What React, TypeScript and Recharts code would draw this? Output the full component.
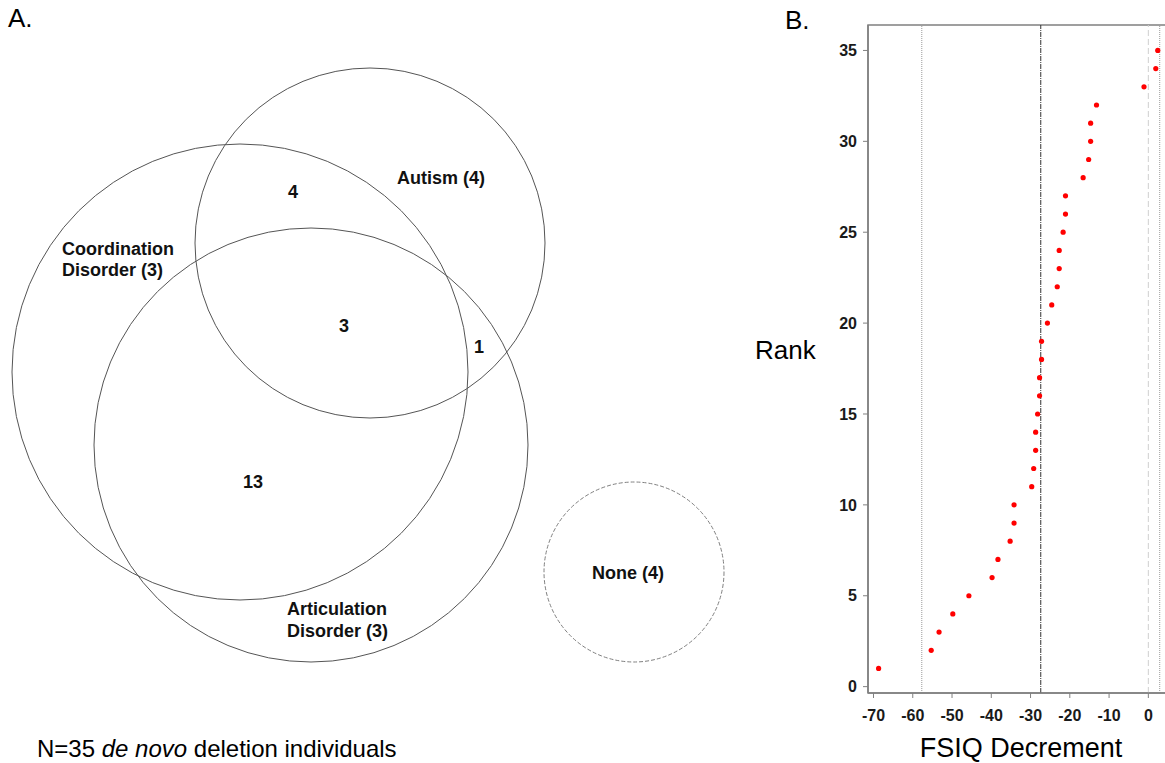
import React from "react";
import {
  ScatterChart,
  Scatter,
  XAxis,
  YAxis,
  ReferenceLine,
  ReferenceArea,
} from "recharts";

const FONT = "'Liberation Sans', Arial, Helvetica, sans-serif";

// ---- Panel A: overlap of diagnoses ----
const setNames = ["Coordination Disorder", "Autism", "Articulation Disorder", "None"];
const setOnlyCounts = [3, 4, 3, 4];
// Coord+Autism, all three, Autism+Artic, Coord+Artic
const overlapCounts = [4, 3, 1, 13];

// circle layout, in panel units (1 unit = 1px)
const circleX = [240, 370, 311, 634];
const circleY = [372, 243, 445, 572];
const circleR = [228, 175, 217, 90];
const setLabelX = [62, 441, 287, 628];
const setLabelY = [259, 178, 619.5, 573];
const setLabelAnchor = ["start", "middle", "start", "middle"];
const overlapX = [293, 344, 479, 253];
const overlapY = [192, 326, 347, 482];

// ---- Panel B: FSIQ decrement by rank ----
const ranks = [
  1, 2, 3, 4, 5, 6, 7, 8, 9, 10, 11, 12, 13, 14, 15, 16, 17, 18,
  19, 20, 21, 22, 23, 24, 25, 26, 27, 28, 29, 30, 31, 32, 33, 34, 35,
];
const fsiqDecrement = [
  -68.7, -55.3, -53.3, -49.8, -45.7, -39.8, -38.3, -35.2, -34.2, -34.2,
  -29.7, -29.2, -28.7, -28.7, -28.2, -27.7, -27.7, -27.2, -27.2, -25.7,
  -24.6, -23.2, -22.7, -22.7, -21.7, -21.1, -21.1, -16.6, -15.2, -14.7,
  -14.7, -13.2, -1.1, 1.9, 2.4,
];
const xTicks = [-70, -60, -50, -40, -30, -20, -10, 0];
const yTicks = [0, 5, 10, 15, 20, 25, 30, 35];
const decrementMean = -27.4;
const decrementLower = -57.7;
const decrementUpper = 2.9;

const X_DOMAIN: [number, number] = [-71.4, 4.5];
const Y_DOMAIN: [number, number] = [-0.35, 36.4];

const VENN_W = 740;
const VENN_H = 763;
const UNIT = 1; // px per layout unit (domain matches chart size)

const VennCircle = (props: any) => {
  const { cx, cy, payload } = props;
  return (
    <circle
      cx={cx}
      cy={cy}
      r={payload.r * UNIT}
      fill="none"
      stroke={payload.dashed ? "#808080" : "#555"}
      strokeWidth={1}
      strokeDasharray={payload.dashed ? "4 2" : undefined}
    />
  );
};

const VennText = (props: any) => {
  const { cx, cy, payload } = props;
  const lines: string[] = payload.lines;
  const lineH = 21.5;
  const y0 = cy - ((lines.length - 1) * lineH) / 2 + 6.3;
  return (
    <text
      textAnchor={payload.anchor}
      fontFamily={FONT}
      fontWeight="bold"
      fontSize={18}
      fill="#111"
    >
      {lines.map((l, i) => (
        <tspan key={i} x={cx} y={y0 + i * lineH}>
          {l}
        </tspan>
      ))}
    </text>
  );
};

const RedDot = (props: any) => (
  <circle cx={props.cx} cy={props.cy} r={2.6} fill="#ff0000" />
);

export default function App() {
  const circles = setNames.map((name, i) => ({
    x: circleX[i],
    y: circleY[i],
    r: circleR[i],
    dashed: name === "None",
  }));

  const setLabels = setNames.map((name, i) => {
    const parts = name.split(" ");
    const lines =
      parts.length > 1
        ? [parts[0], `${parts.slice(1).join(" ")} (${setOnlyCounts[i]})`]
        : [`${name} (${setOnlyCounts[i]})`];
    return { x: setLabelX[i], y: setLabelY[i], lines, anchor: setLabelAnchor[i] };
  });

  const overlapLabels = overlapCounts.map((n, i) => ({
    x: overlapX[i],
    y: overlapY[i],
    lines: [String(n)],
    anchor: "middle",
  }));

  const points = ranks.map((rank, i) => ({ x: fsiqDecrement[i], y: rank }));

  const tickStyle = { fontFamily: FONT, fontWeight: "bold", fontSize: 16, fill: "#1a1a1a" };

  return (
    <div
      style={{
        position: "absolute",
        left: 0,
        top: 0,
        width: 1165,
        height: 763,
        overflow: "hidden",
        background: "#fff",
        fontFamily: FONT,
      }}
    >
      <div style={{ position: "absolute", left: 0, top: 0 }}>
        <ScatterChart width={VENN_W} height={VENN_H} margin={{ top: 0, right: 0, bottom: 0, left: 0 }}>
          <XAxis type="number" dataKey="x" domain={[0, VENN_W]} hide />
          <YAxis type="number" dataKey="y" domain={[0, VENN_H]} reversed hide />
          <Scatter data={circles} shape={VennCircle} isAnimationActive={false} />
          <Scatter data={setLabels} shape={VennText} isAnimationActive={false} />
          <Scatter data={overlapLabels} shape={VennText} isAnimationActive={false} />
        </ScatterChart>
      </div>

      <div style={{ position: "absolute", left: 740, top: 0 }}>
        <ScatterChart width={426} height={763} margin={{ top: 25, right: 0, bottom: 0, left: 0 }}>
          <ReferenceArea
            x1={X_DOMAIN[0]}
            x2={X_DOMAIN[1]}
            y1={Y_DOMAIN[0]}
            y2={Y_DOMAIN[1]}
            fill="none"
            stroke="#808080"
            strokeWidth={1.5}
          />
          <ReferenceLine x={decrementLower} stroke="#9a9a9a" strokeDasharray="1 1" />
          <ReferenceLine x={decrementMean} stroke="#333" strokeDasharray="5 1 1 1" />
          <ReferenceLine x={0} stroke="#cfcfcf" strokeDasharray="6 3" />
          <ReferenceLine x={decrementUpper} stroke="#9a9a9a" strokeDasharray="1 1" />
          <XAxis
            type="number"
            dataKey="x"
            domain={X_DOMAIN}
            ticks={xTicks}
            allowDataOverflow
            height={70}
            tick={tickStyle}
            tickSize={5}
            tickMargin={12}
            axisLine={{ stroke: "#808080", strokeWidth: 1.5 }}
            tickLine={{ stroke: "#808080" }}
            label={{
              value: "FSIQ Decrement",
              position: "insideBottom",
              offset: 6,
              dx: 4,
              fill: "#000",
              fontSize: 27,
              fontFamily: FONT,
            }}
          />
          <YAxis
            type="number"
            dataKey="y"
            domain={Y_DOMAIN}
            ticks={yTicks}
            allowDataOverflow
            width={128}
            tick={tickStyle}
            tickSize={5}
            tickMargin={6}
            axisLine={{ stroke: "#808080", strokeWidth: 1.5 }}
            tickLine={{ stroke: "#808080" }}
            label={{
              value: "Rank",
              position: "insideLeft",
              offset: 15,
              dy: -9,
              fill: "#000",
              fontSize: 26,
              fontFamily: FONT,
            }}
          />
          <Scatter data={points} shape={RedDot} isAnimationActive={false} />
        </ScatterChart>
      </div>

      <svg
        width={1165}
        height={763}
        style={{ position: "absolute", left: 0, top: 0, pointerEvents: "none" }}
      >
        <text x={8} y={27} fontFamily={FONT} fontSize={26} fill="#000">
          A.
        </text>
        <text x={785} y={29} fontFamily={FONT} fontSize={26} fill="#000">
          B.
        </text>
        <text x={37} y={757} fontFamily={FONT} fontSize={24} fill="#000">
          N=35 <tspan fontStyle="italic">de novo</tspan> deletion individuals
        </text>
      </svg>
    </div>
  );
}
